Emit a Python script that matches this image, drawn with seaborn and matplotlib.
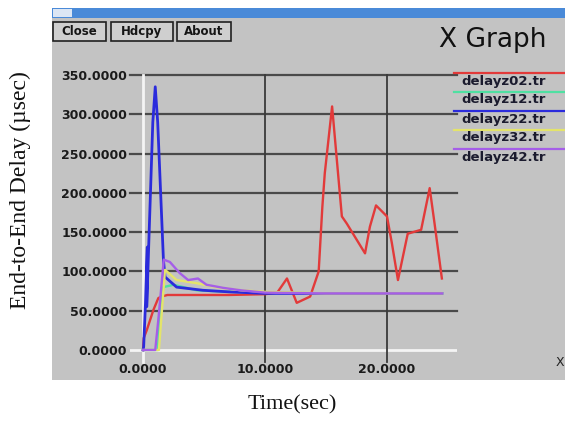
import matplotlib
matplotlib.use("Agg")
import matplotlib.pyplot as plt
import seaborn as sns
import pandas as pd
from matplotlib.patches import Rectangle
from matplotlib.lines import Line2D

# ------------------- DATOS ------------------- #

series_names = ["delayz02.tr", "delayz12.tr", "delayz22.tr", "delayz32.tr", "delayz42.tr"]
series_colors = ["#e23a3a", "#4fe0a2", "#2b2bdc", "#e4e46a", "#a55ee8"]

t_z02 = [0.0, 0.05, 0.3, 0.85, 1.25, 1.5, 2.0, 4.0, 7.0, 10.0, 11.0, 11.8, 12.6, 13.7, 14.4,
         14.7, 14.9, 15.5, 16.3, 16.7, 18.2, 18.6, 19.1, 20.0, 20.4, 20.9, 21.7, 22.8, 23.5,
         23.9, 24.5]
y_z02 = [0.0, 15.0, 25.0, 51.0, 66.0, 68.0, 70.0, 70.0, 70.0, 71.0, 73.0, 91.0, 60.0, 68.0, 100.0,
         182.0, 225.0, 310.0, 170.0, 161.0, 123.0, 157.0, 184.0, 170.0, 136.0, 89.0, 148.0, 153.0, 206.0,
         161.0, 91.0]

t_z12 = [0.0, 0.5, 1.2, 1.5, 1.67, 2.5, 4.4, 7.0, 10.0, 15.0, 20.0, 24.5]
y_z12 = [0.0, 0.0, 0.0, 60.0, 80.0, 83.0, 76.0, 74.0, 73.0, 72.0, 72.0, 72.0]

t_z22 = [0.0, 0.05, 0.2, 0.35, 0.3, 0.5, 0.8, 1.0, 1.2, 1.67, 1.8, 2.75, 4.9, 7.0, 10.0, 15.0, 20.0, 24.5]
y_z22 = [0.0, 4.0, 60.0, 131.0, 55.0, 150.0, 290.0, 335.0, 290.0, 115.0, 93.0, 80.0, 76.0, 74.0, 72.0, 72.0, 72.0, 72.0]

t_z32 = [0.0, 0.6, 1.3, 1.8, 2.75, 4.4, 6.0, 8.0, 10.0, 15.0, 20.0, 24.5]
y_z32 = [0.0, 0.0, 0.0, 102.0, 89.0, 85.0, 80.0, 76.0, 74.0, 72.0, 72.0, 72.0]

t_z42 = [0.0, 0.5, 1.0, 1.25, 1.7, 2.2, 3.0, 3.7, 4.5, 5.2, 6.6, 8.0, 10.0, 15.0, 20.0, 24.5]
y_z42 = [0.0, 0.0, 0.0, 38.0, 115.0, 112.0, 98.0, 89.0, 91.0, 83.0, 79.0, 76.0, 73.0, 72.0, 72.0, 72.0]

y_ticks = [0, 50, 100, 150, 200, 250, 300, 350]
x_ticks = [0, 10, 20]

df = pd.concat([
    pd.DataFrame({"Time": t, "Delay": y, "File": name})
    for t, y, name in zip([t_z02, t_z12, t_z22, t_z32, t_z42],
                          [y_z02, y_z12, y_z22, y_z32, y_z42], series_names)
], ignore_index=True)

# ------------------- FIGURA ------------------- #

W, H = 565, 424
fig = plt.figure(figsize=(W / 100, H / 100), dpi=100)
fig.patch.set_facecolor("white")


def fx(px):
    return px / W


def fy(py):
    return 1 - py / H


# ventana gris de xgraph
fig.add_artist(Rectangle((fx(52), fy(380)), fx(565) - fx(52), fy(8) - fy(380),
                         transform=fig.transFigure, facecolor="#c3c3c3", edgecolor="none", zorder=0))
fig.add_artist(Rectangle((fx(52), fy(18)), fx(565) - fx(52), fy(8) - fy(18),
                         transform=fig.transFigure, facecolor="#4a8ad8", edgecolor="none", zorder=1))
fig.add_artist(Rectangle((fx(53), fy(17)), fx(19), fy(9) - fy(17),
                         transform=fig.transFigure, facecolor="#dce6f4", edgecolor="none", zorder=2))

for label, x0, x1 in [("Close", 53, 106), ("Hdcpy", 111, 173), ("About", 177, 231)]:
    fig.add_artist(Rectangle((fx(x0), fy(41)), fx(x1) - fx(x0), fy(22) - fy(41),
                             transform=fig.transFigure, facecolor="#cfcfcf",
                             edgecolor="#202020", lw=1.2, zorder=2))
    fig.text(fx((x0 + x1) / 2), fy(31.5), label, ha="center", va="center",
             fontsize=8.5, fontweight="bold", color="#151515", zorder=3)

fig.text(fx(493), fy(40), "X Graph", ha="center", va="center", fontsize=19, color="#111111")
fig.text(fx(556), fy(363), "X", ha="left", va="center", fontsize=9, color="#222222")

# ------------------- EJES ------------------- #

ax = fig.add_axes([fx(130), fy(362), fx(457) - fx(130), fy(75) - fy(362)])
ax.set_facecolor("none")
ax.set_xlim(-1.07, 25.74)
ax.set_ylim(-15.3, 350)
for s in ax.spines.values():
    s.set_visible(False)

for y in y_ticks[1:]:
    ax.axhline(y, color="#4a4a4a", lw=1.6, zorder=1, clip_on=False)
ax.axhline(0, color="#f4f4f4", lw=2, zorder=1)
ax.axvline(0, color="#f4f4f4", lw=2, zorder=1, clip_on=False)
for x in x_ticks[1:]:
    ax.axvline(x, color="#3a3a3a", lw=1.3, zorder=1, clip_on=False)

for name, color in zip(series_names, series_colors):
    sns.lineplot(data=df[df["File"] == name], x="Time", y="Delay", color=color,
                 lw=2.0 if name == "delayz22.tr" else 1.7, sort=False, estimator=None,
                 ax=ax, zorder=3, legend=False)

ax.set_yticks(y_ticks)
ax.set_yticklabels([f"{v:.4f}" for v in y_ticks])
ax.set_xticks(x_ticks)
ax.set_xticklabels([f"{v:.4f}" for v in x_ticks])
ax.tick_params(axis="both", length=0, labelsize=9, labelcolor="#1a1a1a")
for lab in ax.get_xticklabels() + ax.get_yticklabels():
    lab.set_fontweight("bold")
ax.tick_params(axis="y", pad=2)
ax.tick_params(axis="x", pad=1)
ax.set_xlabel("")
ax.set_ylabel("")

# leyenda estilo xgraph
for i, (name, color) in enumerate(zip(series_names, series_colors)):
    yl = 73 + i * 19
    fig.add_artist(Line2D([fx(454), fx(565)], [fy(yl), fy(yl)], color=color, lw=1.6,
                          transform=fig.transFigure))
    fig.text(fx(461), fy(yl + 8), name, ha="left", va="center", fontsize=9.5,
             fontweight="bold", color="#1b1b2e")

fig.text(fx(292), fy(405), "Time(sec)", ha="center", va="center",
         fontsize=16, family="Liberation Serif", color="#111111")
fig.text(fx(20), fy(190), "End-to-End Delay (\u00b5sec)", ha="center", va="center", rotation=90,
         fontsize=17, family="Liberation Serif", color="#111111")

fig.savefig("out.png", dpi=100)
